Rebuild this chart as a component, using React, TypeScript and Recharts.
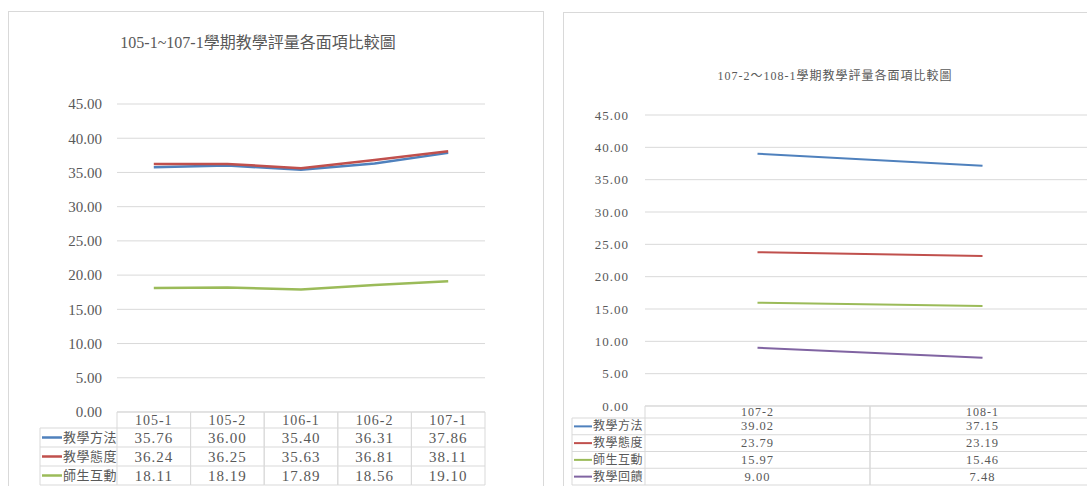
import React from 'react';
import { LineChart, Line, XAxis, YAxis, CartesianGrid } from 'recharts';

const FONT = "'Liberation Serif', 'DejaVu Serif', 'Noto Sans CJK TC', serif";
const GRID = '#D9D9D9';
const TEXT = '#595959';

const seriesNames = ['教學方法', '教學態度', '師生互動', '教學回饋'];
const seriesColors = ['#4F81BD', '#C0504D', '#9BBB59', '#8064A2'];

const leftTitle = '105-1~107-1學期教學評量各面項比較圖';
const leftCategories = ['105-1', '105-2', '106-1', '106-2', '107-1'];
const leftTeachingMethod = [35.76, 36.0, 35.4, 36.31, 37.86];
const leftTeachingAttitude = [36.24, 36.25, 35.63, 36.81, 38.11];
const leftInteraction = [18.11, 18.19, 17.89, 18.56, 19.1];

const rightTitle = '107-2～108-1學期教學評量各面項比較圖';
const rightCategories = ['107-2', '108-1'];
const rightTeachingMethod = [39.02, 37.15];
const rightTeachingAttitude = [23.79, 23.19];
const rightInteraction = [15.97, 15.46];
const rightFeedback = [9.0, 7.48];

const yTicks = [0, 5, 10, 15, 20, 25, 30, 35, 40, 45];

const leftSeries = [leftTeachingMethod, leftTeachingAttitude, leftInteraction];
const rightSeries = [rightTeachingMethod, rightTeachingAttitude, rightInteraction, rightFeedback];

function buildRows(categories: string[], series: number[][]) {
  return categories.map((c, i) => {
    const row: any = { cat: c };
    series.forEach((s, k) => {
      row['s' + k] = s[i];
    });
    return row;
  });
}

const leftData = buildRows(leftCategories, leftSeries);
const rightData = buildRows(rightCategories, rightSeries);

type TableCfg = {
  categories: string[];
  series: number[][];
  colW: number;
  legendW: number;
  headerH: number;
  rowH: number;
  headerFont: number;
  valueFont: number;
  legendFont: number;
  sampleLen: number;
  sampleW: number;
  spacing: number;
};

function makeTableTick(cfg: TableCfg) {
  return (props: any) => {
    const { x, y, payload } = props;
    const idx = cfg.categories.indexOf(payload.value);
    const n = cfg.series.length;
    const left = x - cfg.colW / 2;
    const right = x + cfg.colW / 2;
    const bottom = y + cfg.headerH + n * cfg.rowH;
    const els: any[] = [];
    for (let r = 0; r <= n + 1; r++) {
      const yy = r === 0 ? y : y + cfg.headerH + (r - 1) * cfg.rowH;
      els.push(<line key={'h' + r} x1={left} x2={right} y1={yy} y2={yy} stroke={GRID} strokeWidth={1} />);
    }
    els.push(<line key="vl" x1={left} x2={left} y1={y} y2={bottom} stroke={GRID} strokeWidth={1} />);
    els.push(<line key="vr" x1={right} x2={right} y1={y} y2={bottom} stroke={GRID} strokeWidth={1} />);
    els.push(
      <text key="hdr" x={x} y={y + cfg.headerH / 2} textAnchor="middle" dominantBaseline="central"
        fill={TEXT} fontSize={cfg.headerFont} fontFamily={FONT} letterSpacing={cfg.spacing}>
        {payload.value}
      </text>
    );
    cfg.series.forEach((s, k) => {
      const cy = y + cfg.headerH + k * cfg.rowH + cfg.rowH / 2;
      els.push(
        <text key={'v' + k} x={x} y={cy} textAnchor="middle" dominantBaseline="central"
          fill={TEXT} fontSize={cfg.valueFont} fontFamily={FONT} letterSpacing={cfg.spacing}>
          {s[idx].toFixed(2)}
        </text>
      );
    });
    if (idx === 0) {
      const lx = left - cfg.legendW;
      const top = y + cfg.headerH;
      els.push(<line key="lvl" x1={lx} x2={lx} y1={top} y2={bottom} stroke={GRID} strokeWidth={1} />);
      for (let r = 0; r <= n; r++) {
        const yy = top + r * cfg.rowH;
        els.push(<line key={'lh' + r} x1={lx} x2={left} y1={yy} y2={yy} stroke={GRID} strokeWidth={1} />);
      }
      cfg.series.forEach((_, k) => {
        const cy = top + k * cfg.rowH + cfg.rowH / 2;
        els.push(
          <line key={'ls' + k} x1={lx + 2} x2={lx + 2 + cfg.sampleLen} y1={cy} y2={cy}
            stroke={seriesColors[k]} strokeWidth={cfg.sampleW} />
        );
        els.push(
          <text key={'lt' + k} x={lx + 3 + cfg.sampleLen} y={cy} textAnchor="start" dominantBaseline="central"
            fill={TEXT} fontSize={cfg.legendFont} fontFamily={FONT} letterSpacing={0.5}>
            {seriesNames[k]}
          </text>
        );
      });
    }
    return <g>{els}</g>;
  };
}

const L_W = 537;
const L_H = 475;
const L_MARGIN = { top: 93, right: 60, bottom: 0, left: 49 };
const L_YW = 60;
const L_PLOT_W = L_W - L_MARGIN.left - L_MARGIN.right - L_YW;

const R_W = 540;
const R_H = 474;
const R_MARGIN = { top: 103, right: 8, bottom: 0, left: 22 };
const R_YW = 60;
const R_PLOT_W = R_W - R_MARGIN.left - R_MARGIN.right - R_YW;

const leftTick = makeTableTick({
  categories: leftCategories,
  series: leftSeries,
  colW: L_PLOT_W / leftCategories.length,
  legendW: 77,
  headerH: 16,
  rowH: 19,
  headerFont: 14,
  valueFont: 15,
  legendFont: 13,
  sampleLen: 20,
  sampleW: 2.5,
  spacing: 1,
});

const rightTick = makeTableTick({
  categories: rightCategories,
  series: rightSeries,
  colW: R_PLOT_W / rightCategories.length,
  legendW: 73,
  headerH: 12,
  rowH: 16.75,
  headerFont: 12,
  valueFont: 12.5,
  legendFont: 12,
  sampleLen: 18,
  sampleW: 2,
  spacing: 1,
});

export default function App() {
  return (
    <div style={{ position: 'absolute', left: 0, top: 0, width: 1087, height: 486, overflow: 'hidden', background: '#fff' }}>
      <div style={{ position: 'absolute', left: 8, top: 11, width: 536, height: 490, border: '1px solid #D9D9D9', boxSizing: 'border-box' }} />
      <div style={{ position: 'absolute', left: 58, top: 29, width: 400, textAlign: 'center', fontFamily: FONT, fontSize: 16, color: TEXT, whiteSpace: 'nowrap' }}>
        {leftTitle}
      </div>
      <div style={{ position: 'absolute', left: 8, top: 11 }}>
        <LineChart width={L_W} height={L_H} data={leftData} margin={L_MARGIN}>
          <CartesianGrid horizontal vertical={false} stroke={GRID} />
          <XAxis dataKey="cat" scale="band" height={74} axisLine={false} tickLine={false} tickSize={0} tickMargin={0}
            interval={0} tick={leftTick} />
          <YAxis type="number" domain={[0, 45]} ticks={yTicks} width={L_YW} axisLine={false} tickLine={false}
            tickSize={0} tickMargin={15} interval={0} tickFormatter={(v: number) => v.toFixed(2)}
            tick={{ fill: TEXT, fontSize: 15, fontFamily: FONT }} />
          {leftSeries.map((_, k) => (
            <Line key={k} type="linear" dataKey={'s' + k} name={seriesNames[k]} stroke={seriesColors[k]}
              strokeWidth={2.5} dot={false} isAnimationActive={false} />
          ))}
        </LineChart>
      </div>

      <div style={{ position: 'absolute', left: 563, top: 12, width: 560, height: 490, border: '1px solid #D9D9D9', boxSizing: 'border-box' }} />
      <div style={{ position: 'absolute', left: 685, top: 66, width: 300, textAlign: 'center', fontFamily: FONT, fontSize: 12, color: TEXT, whiteSpace: 'nowrap', letterSpacing: 1 }}>
        {rightTitle}
      </div>
      <div style={{ position: 'absolute', left: 563, top: 12 }}>
        <LineChart width={R_W} height={R_H} data={rightData} margin={R_MARGIN}>
          <CartesianGrid horizontal vertical={false} stroke={GRID} />
          <XAxis dataKey="cat" scale="band" height={80} axisLine={false} tickLine={false} tickSize={0} tickMargin={0}
            interval={0} tick={rightTick} />
          <YAxis type="number" domain={[0, 45]} ticks={yTicks} width={R_YW} axisLine={false} tickLine={false}
            tickSize={0} tickMargin={16} interval={0} tickFormatter={(v: number) => v.toFixed(2)}
            tick={{ fill: TEXT, fontSize: 13, fontFamily: FONT, letterSpacing: 1 }} />
          {rightSeries.map((_, k) => (
            <Line key={k} type="linear" dataKey={'s' + k} name={seriesNames[k]} stroke={seriesColors[k]}
              strokeWidth={2} dot={false} isAnimationActive={false} />
          ))}
        </LineChart>
      </div>
    </div>
  );
}
